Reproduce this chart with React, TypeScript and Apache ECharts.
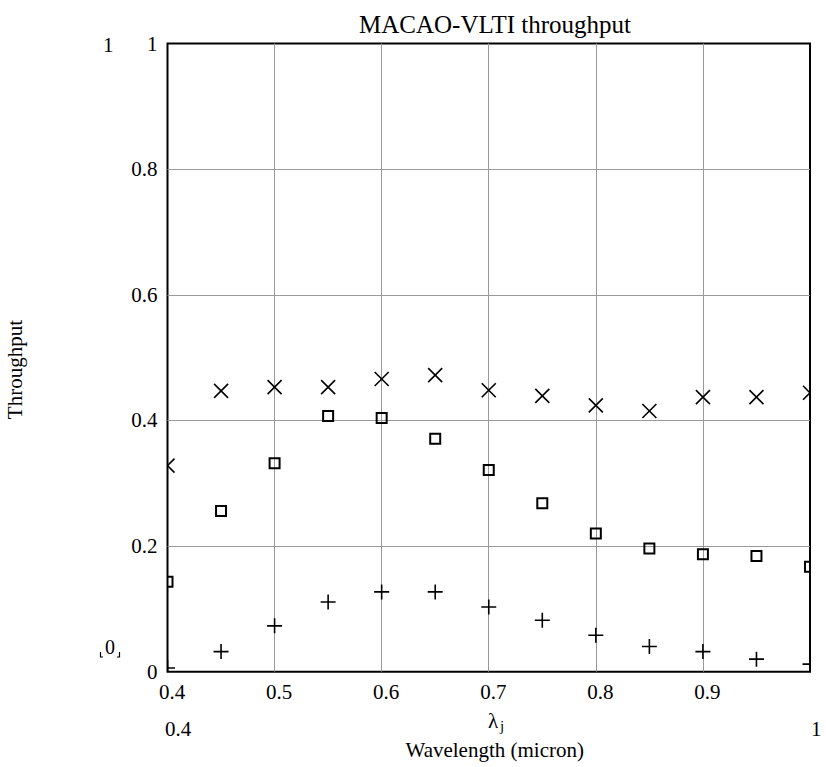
import React, { useEffect, useRef } from "react";
import * as echarts from "echarts";

const wavelengths = [0.4, 0.45, 0.5, 0.55, 0.6, 0.65, 0.7, 0.75, 0.8, 0.85, 0.9, 0.95, 1.0];
const crossValues = [0.328, 0.447, 0.453, 0.453, 0.466, 0.472, 0.448, 0.439, 0.424, 0.415, 0.437, 0.437, 0.444];
const squareValues = [0.143, 0.256, 0.332, 0.407, 0.404, 0.371, 0.321, 0.268, 0.220, 0.196, 0.187, 0.184, 0.167];
const plusValues = [0.006, 0.032, 0.073, 0.111, 0.127, 0.127, 0.103, 0.082, 0.058, 0.040, 0.032, 0.020, 0.012];

const FONT = "'Liberation Serif', 'Times New Roman', serif";

type Kind = "cross" | "square" | "plus";

function makeRender(kind: Kind) {
  return (params: any, api: any) => {
    const p = api.coord([api.value(0), api.value(1)]);
    const st = { stroke: "#000", lineWidth: 1.6, fill: "none" };
    if (kind === "cross") {
      const s = 7;
      return {
        type: "group",
        children: [
          { type: "line", shape: { x1: p[0] - s, y1: p[1] - s, x2: p[0] + s, y2: p[1] + s }, style: st },
          { type: "line", shape: { x1: p[0] - s, y1: p[1] + s, x2: p[0] + s, y2: p[1] - s }, style: st },
        ],
      };
    }
    if (kind === "plus") {
      const s = 7.5;
      return {
        type: "group",
        children: [
          { type: "line", shape: { x1: p[0] - s, y1: p[1], x2: p[0] + s, y2: p[1] }, style: st },
          { type: "line", shape: { x1: p[0], y1: p[1] - s, x2: p[0], y2: p[1] + s }, style: st },
        ],
      };
    }
    const h = 5;
    return {
      type: "rect",
      shape: { x: p[0] - h, y: p[1] - h, width: 2 * h, height: 2 * h },
      style: { stroke: "#000", lineWidth: 2, fill: "none" },
    };
  };
}

function pairs(vals: number[]) {
  return wavelengths.map((w, i) => [w, vals[i]]);
}

export default function App() {
  const ref = useRef<HTMLDivElement>(null);
  useEffect(() => {
    if (!ref.current) return;
    const chart = echarts.init(ref.current, null, { renderer: "svg" });
    const textStyle = { fontFamily: FONT, fontSize: 21, color: "#000" };
    const split = { show: true, showMinLine: false, showMaxLine: false, lineStyle: { color: "#999", width: 1 } };
    chart.setOption({
      animation: false,
      backgroundColor: "#fff",
      title: {
        text: "MACAO-VLTI throughput",
        left: 495,
        top: 12,
        padding: 0,
        textAlign: "center",
        textStyle: { ...textStyle, fontSize: 25, fontWeight: "normal" },
      },
      grid: {
        left: 167.5,
        right: 16,
        top: 43.5,
        bottom: 95.3,
        show: true,
        borderColor: "#000",
        borderWidth: 2,
        backgroundColor: "transparent",
        outerBoundsMode: "none",
        containLabel: false,
      },
      xAxis: {
        type: "value",
        min: 0.4,
        max: 1,
        interval: 0.1,
        axisLine: { show: false },
        axisTick: { show: false },
        splitLine: split,
        axisLabel: {
          ...textStyle,
          margin: 10,
          showMaxLabel: false,
          padding: [0, 0, 0, 9],
          formatter: (v: number) => String(Math.round(v * 10) / 10),
        },
        name: "Wavelength (micron)",
        nameLocation: "middle",
        nameGap: 68,
        nameTextStyle: { ...textStyle, padding: [0, 0, 0, 12] },
      },
      yAxis: {
        type: "value",
        min: 0,
        max: 1,
        interval: 0.2,
        axisLine: { show: false },
        axisTick: { show: false },
        splitLine: split,
        axisLabel: {
          ...textStyle,
          margin: 10,
          formatter: (v: number) => String(Math.round(v * 10) / 10),
        },
        name: "Throughput",
        nameLocation: "middle",
        nameRotate: 90,
        nameGap: 142,
        nameTextStyle: { ...textStyle, padding: [0, 24, 0, 0] },
      },
      graphic: [
        { type: "text", left: 103, top: 34, style: { text: "1", font: `21px ${FONT}`, fill: "#000" } },
        { type: "text", left: 105, top: 637, style: { text: "0", font: `20px ${FONT}`, fill: "#000" } },
        { type: "polyline", shape: { points: [[100.5, 652], [100.5, 657], [103, 657]] }, style: { stroke: "#000", lineWidth: 1.2, fill: "none" } },
        { type: "polyline", shape: { points: [[117, 657], [119.5, 657], [119.5, 652]] }, style: { stroke: "#000", lineWidth: 1.2, fill: "none" } },
        { type: "text", left: 165, top: 718, style: { text: "0.4", font: `21px ${FONT}`, fill: "#000" } },
        { type: "text", left: 811, top: 718, style: { text: "1", font: `21px ${FONT}`, fill: "#000" } },
        { type: "text", left: 488, top: 710, style: { text: "λ", font: `21px ${FONT}`, fill: "#000" } },
        { type: "text", left: 500, top: 718, style: { text: "j", font: `15px ${FONT}`, fill: "#000" } },
      ],
      series: [
        { type: "custom", clip: true, renderItem: makeRender("cross"), data: pairs(crossValues) },
        { type: "custom", clip: true, renderItem: makeRender("square"), data: pairs(squareValues) },
        { type: "custom", clip: true, renderItem: makeRender("plus"), data: pairs(plusValues) },
      ],
    });
    return () => chart.dispose();
  }, []);
  return (
    <div
      ref={ref}
      style={{ position: "fixed", left: 0, top: 0, width: 826, height: 767, background: "#fff" }}
    />
  );
}
